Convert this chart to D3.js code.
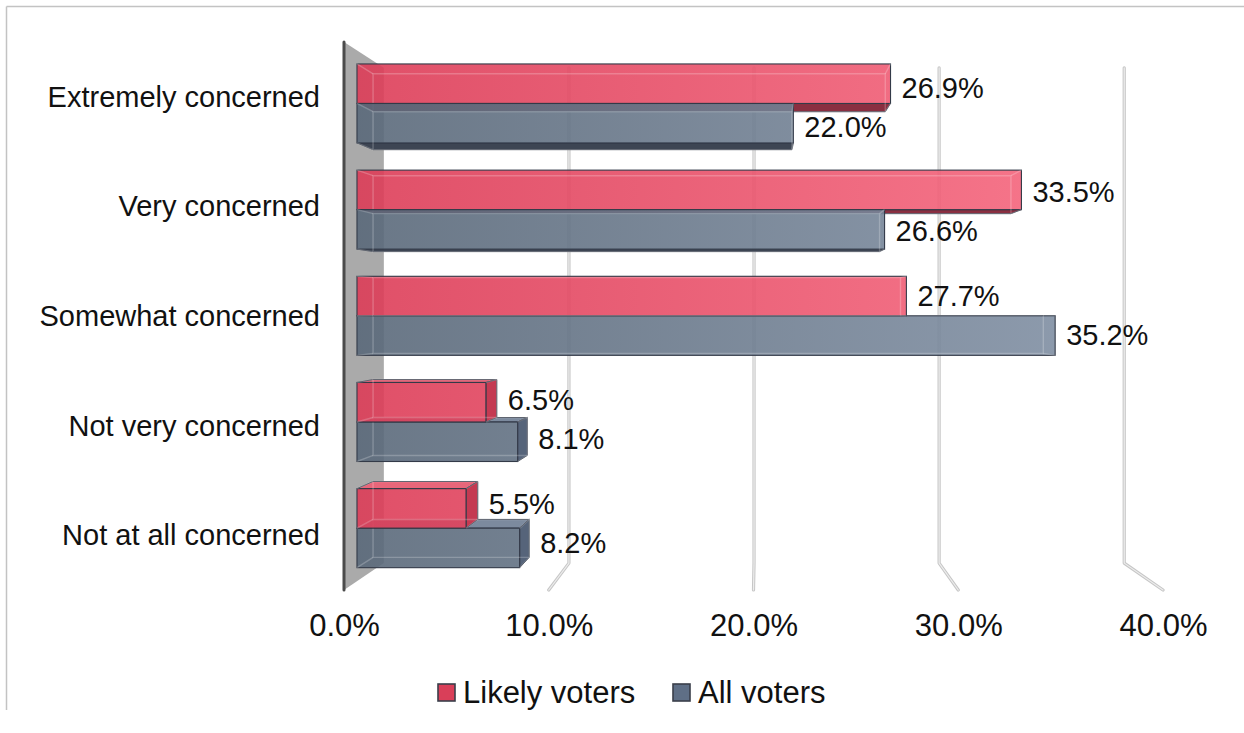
<!DOCTYPE html>
<html>
<head>
<meta charset="utf-8">
<script src="https://cdn.jsdelivr.net/npm/d3@7"></script>
<style>
  html, body { margin: 0; padding: 0; background: #fff; }
  svg { display: block; font-family: "Liberation Sans", Arial, sans-serif; }
</style>
</head>
<body>
<svg id="chart" width="1244" height="733"></svg>
<script>
// Survey results: level of concern, likely voters vs all voters
const categories = ["Extremely concerned", "Very concerned", "Somewhat concerned", "Not very concerned", "Not at all concerned"];
const seriesNames = ["Likely voters", "All voters"];
const likelyVoters = [26.9, 33.5, 27.7, 6.5, 5.5];
const allVoters = [22.0, 26.6, 35.2, 8.1, 8.2];
const xTicks = [0, 10, 20, 30, 40];

const svg = d3.select("#chart");

// Front plane of the 3D box
const x = d3.scaleLinear().domain([0, 40]).range([344, 1163]);
const y = d3.scaleBand().domain(categories).range([42, 590]).paddingInner(0.2555).paddingOuter(0.12775);
const ySeries = d3.scaleBand().domain(seriesNames).range([0, y.bandwidth()]);

// Perspective: vanishing point and depth factors
const vp = { x: 759, y: 310 };
const depthBackWall = 0.904, depthBarFront = 0.9687, depthBarBack = 0.93;
const project = (X, Y, s) => [vp.x + s * (X - vp.x), vp.y + s * (Y - vp.y)];

const palette = {
  "Likely voters": { g0: "#dc3c57", g1: "#f6687f", bottom: "#8a2f41", top: "#e8667a", cap: "#c43a52", legend: "#d93f59" },
  "All voters":    { g0: "#596879", g1: "#8190a4", bottom: "#3d4553", top: "#7c8a9e", cap: "#56647a", legend: "#5f6f86" }
};

// Chart frame
svg.append("line").attr("x1", 6.5).attr("x2", 1244).attr("y1", 6.5).attr("y2", 6.5)
  .attr("stroke", "#c3c3c3").attr("stroke-width", 1.5);
svg.append("line").attr("x1", 6.5).attr("x2", 6.5).attr("y1", 6.5).attr("y2", 710)
  .attr("stroke", "#c3c3c3").attr("stroke-width", 1.5);

// Gradients for the bar fronts
const defs = svg.append("defs");
seriesNames.forEach((name, i) => {
  const grad = defs.append("linearGradient").attr("id", "grad" + i)
    .attr("gradientUnits", "userSpaceOnUse")
    .attr("x1", x(0)).attr("x2", x(36)).attr("y1", 0).attr("y2", 0);
  grad.append("stop").attr("offset", 0).attr("stop-color", palette[name].g0);
  grad.append("stop").attr("offset", 1).attr("stop-color", palette[name].g1);
});

const [plotTop, plotBottom] = y.range();

// Gridlines: up the back wall, then across the floor to the front
const grid = svg.append("g");
xTicks.filter(t => t > 0).forEach(t => {
  const pts = [project(x(t), plotTop, depthBackWall), project(x(t), plotBottom, depthBackWall), project(x(t), plotBottom, 1)];
  grid.append("polyline").attr("points", pts.join(" "))
    .attr("fill", "none").attr("stroke", "#c6c6c6").attr("stroke-width", 3.2)
    .attr("stroke-linejoin", "round").attr("stroke-linecap", "round");
  grid.append("polyline").attr("points", pts.join(" "))
    .attr("fill", "none").attr("stroke", "#ededed").attr("stroke-width", 1.2)
    .attr("stroke-linejoin", "round").attr("stroke-linecap", "round");
});

// Side wall at 0%
const wallPts = [project(x(0), plotTop, 1), project(x(0), plotTop, depthBackWall),
                 project(x(0), plotBottom, depthBackWall), project(x(0), plotBottom, 1)];
svg.append("polygon").attr("points", wallPts.join(" ")).attr("fill", "#aaaaaa");
svg.append("line").attr("x1", x(0)).attr("x2", x(0)).attr("y1", plotTop).attr("y2", plotBottom)
  .attr("stroke", "#4b4b4b").attr("stroke-width", 3).attr("stroke-linecap", "round");

// 3D bars
const bars = svg.append("g");
const poly = pts => pts.map(p => p.join(",")).join(" ");

function drawBox(g, value, name, idx, cat) {
  const c = palette[name];
  const X0 = x(0), X1 = x(value);
  const Y0 = y(cat) + ySeries(name), Y1 = Y0 + ySeries.bandwidth();
  const F = (X, Y) => project(X, Y, depthBarFront);
  const B = (X, Y) => project(X, Y, depthBarBack);
  const edge = "#333a48";

  if (Y1 < vp.y) {
    g.append("polygon").attr("points", poly([F(X0, Y1), F(X1, Y1), B(X1, Y1), B(X0, Y1)]))
      .attr("fill", c.bottom).attr("stroke", edge).attr("stroke-width", 1).attr("stroke-linejoin", "round");
  }
  if (Y0 > vp.y) {
    g.append("polygon").attr("points", poly([F(X0, Y0), F(X1, Y0), B(X1, Y0), B(X0, Y0)]))
      .attr("fill", c.top).attr("stroke", edge).attr("stroke-width", 1).attr("stroke-linejoin", "round");
  }
  if (F(X1, Y0)[0] < vp.x) {
    g.append("polygon").attr("points", poly([F(X1, Y0), B(X1, Y0), B(X1, Y1), F(X1, Y1)]))
      .attr("fill", c.cap).attr("stroke", edge).attr("stroke-width", 1).attr("stroke-linejoin", "round");
  }
  const f0 = F(X0, Y0), f1 = F(X1, Y1);
  g.append("rect").attr("x", f0[0]).attr("y", f0[1])
    .attr("width", f1[0] - f0[0]).attr("height", f1[1] - f0[1])
    .attr("fill", "url(#grad" + idx + ")").attr("fill-opacity", 0.9)
    .attr("stroke", edge).attr("stroke-width", 1.1);

  // back edges showing through the translucent front
  const backPts = [B(X0, Y0), B(X1, Y0), B(X1, Y1), B(X0, Y1)];
  g.append("polygon").attr("points", poly(backPts))
    .attr("fill", "none").attr("stroke", "#ffffff").attr("stroke-opacity", 0.22).attr("stroke-width", 1.4);
  [[X0, Y0], [X1, Y0], [X1, Y1], [X0, Y1]].forEach(([X, Y]) => {
    g.append("line").attr("x1", F(X, Y)[0]).attr("y1", F(X, Y)[1])
      .attr("x2", B(X, Y)[0]).attr("y2", B(X, Y)[1])
      .attr("stroke", "#ffffff").attr("stroke-opacity", 0.22).attr("stroke-width", 1.4);
  });
}

const seriesValues = [likelyVoters, allVoters];
categories.forEach((cat, ci) => {
  const catMid = y(cat) + y.bandwidth() / 2;
  const order = catMid < vp.y ? [0, 1] : [1, 0];
  order.forEach(si => drawBox(bars, seriesValues[si][ci], seriesNames[si], si, cat));
});

// Value labels
const labels = svg.append("g").attr("font-size", 29).attr("fill", "#111");
categories.forEach((cat, ci) => {
  seriesNames.forEach((name, si) => {
    const v = seriesValues[si][ci];
    const Yc = y(cat) + ySeries(name) + ySeries.bandwidth() / 2;
    const xf = project(x(v), Yc, depthBarFront)[0];
    const xb = project(x(v), Yc, depthBarBack)[0];
    const yc = project(x(v), Yc, (depthBarFront + depthBarBack) / 2)[1];
    labels.append("text").attr("x", Math.max(xf, xb) + 11).attr("y", yc)
      .attr("dominant-baseline", "central").text(v.toFixed(1) + "%");
  });
});

// Category labels
const catAxis = svg.append("g").attr("font-size", 29).attr("fill", "#111").attr("text-anchor", "end");
categories.forEach(cat => {
  catAxis.append("text").attr("x", 320).attr("y", y(cat) + y.bandwidth() / 2)
    .attr("dominant-baseline", "central").text(cat);
});

// Value axis along the front edge of the floor
const xAxis = svg.append("g").attr("transform", "translate(0,614)")
  .call(d3.axisBottom(x).tickValues(xTicks).tickSize(0).tickPadding(0).tickFormat(d => d.toFixed(1) + "%"));
xAxis.select(".domain").remove();
xAxis.selectAll("text").attr("font-size", 31).attr("fill", "#111")
  .attr("font-family", "Liberation Sans, Arial, sans-serif");

// Legend
const legendPos = [438, 673];
const legend = svg.append("g");
seriesNames.forEach((name, i) => {
  const lg = legend.append("g").attr("transform", `translate(${legendPos[i]},684)`);
  lg.append("rect").attr("x", 0).attr("y", 0).attr("width", 17).attr("height", 17)
    .attr("fill", palette[name].legend).attr("stroke", "#3a3f4a").attr("stroke-width", 1.6);
  lg.append("text").attr("x", 25).attr("y", 19).attr("font-size", 31).attr("fill", "#111").text(name);
});
</script>
</body>
</html>
